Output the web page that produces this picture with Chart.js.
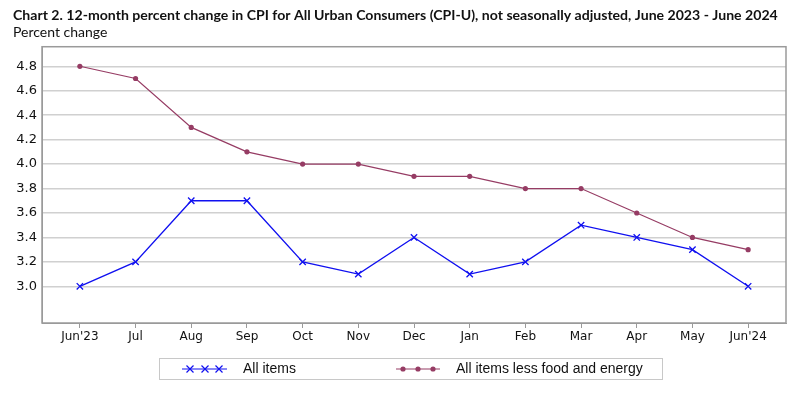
<!DOCTYPE html>
<html>
<head>
<meta charset="utf-8">
<script src="https://cdn.jsdelivr.net/npm/chart.js@4/dist/chart.umd.min.js"></script>
<style>
  html, body { margin: 0; padding: 0; background: #fff; }
  #wrap { width: 800px; height: 397px; position: relative; }
</style>
</head>
<body>
<div id="wrap"><canvas id="cpiChart"></canvas></div>
<script>
const months = ["Jun'23", "Jul", "Aug", "Sep", "Oct", "Nov", "Dec", "Jan", "Feb", "Mar", "Apr", "May", "Jun'24"];
const allItems = [3.0, 3.2, 3.7, 3.7, 3.2, 3.1, 3.4, 3.1, 3.2, 3.5, 3.4, 3.3, 3.0];
const coreItems = [4.8, 4.7, 4.3, 4.1, 4.0, 4.0, 3.9, 3.9, 3.8, 3.8, 3.6, 3.4, 3.3];
const yTicks = [3.0, 3.2, 3.4, 3.6, 3.8, 4.0, 4.2, 4.4, 4.6, 4.8];

const BLUE = '#1010f0';
const MAROON = '#963c64';
const tickFont = { family: 'DejaVu Sans', size: 12 };

// legend in a framed box under the plot
const boxLegend = {
  id: 'boxLegend',
  afterDraw(chart) {
    const c = chart.ctx;
    c.save();
    c.strokeStyle = '#c8c8c8';
    c.lineWidth = 1;
    c.strokeRect(159.5, 358.5, 503, 21);

    const y = 369;
    // all items: line with x marks
    c.strokeStyle = BLUE;
    c.lineWidth = 1.2;
    c.beginPath(); c.moveTo(182, y); c.lineTo(227, y); c.stroke();
    [190, 205, 219].forEach(x => {
      c.beginPath();
      c.moveTo(x - 3.5, y - 3.5); c.lineTo(x + 3.5, y + 3.5);
      c.moveTo(x - 3.5, y + 3.5); c.lineTo(x + 3.5, y - 3.5);
      c.stroke();
    });
    // core: line with dots
    c.strokeStyle = MAROON;
    c.fillStyle = MAROON;
    c.beginPath(); c.moveTo(396, y); c.lineTo(440, y); c.stroke();
    [403, 418, 433].forEach(x => {
      c.beginPath(); c.arc(x, y, 2.6, 0, Math.PI * 2); c.fill();
    });

    c.fillStyle = '#111';
    c.font = '14px "Liberation Sans"';
    c.textBaseline = 'middle';
    c.fillText('All items', 243, y);
    c.fillText('All items less food and energy', 456, y);
    c.restore();
  }
};

// full frame around plot area
const frame = {
  id: 'frame',
  afterDatasetsDraw(chart) {
    const a = chart.chartArea;
    const c = chart.ctx;
    c.save();
    c.strokeStyle = '#9a9a9a';
    c.lineWidth = 1.5;
    c.strokeRect(a.left, a.top, a.right - a.left, a.bottom - a.top);
    c.restore();
  }
};

new Chart(document.getElementById('cpiChart'), {
  type: 'line',
  data: {
    datasets: [
      {
        label: 'All items',
        data: allItems.map((v, i) => ({ x: i, y: v })),
        borderColor: BLUE,
        backgroundColor: BLUE,
        borderWidth: 1.3,
        pointStyle: 'crossRot',
        pointRadius: 4.5,
        pointBorderWidth: 1.3,
        tension: 0
      },
      {
        label: 'All items less food and energy',
        data: coreItems.map((v, i) => ({ x: i, y: v })),
        borderColor: MAROON,
        backgroundColor: MAROON,
        borderWidth: 1.2,
        pointStyle: 'circle',
        pointRadius: 2.6,
        pointBorderWidth: 0,
        tension: 0
      }
    ]
  },
  options: {
    responsive: true,
    maintainAspectRatio: false,
    animation: false,
    layout: { padding: { left: 13, right: 14, top: 0, bottom: 44 } },
    plugins: {
      legend: { display: false },
      tooltip: { enabled: false },
      title: {
        display: true,
        align: 'start',
        text: 'Chart 2. 12-month percent change in CPI for All Urban Consumers (CPI-U), not seasonally adjusted, June 2023 - June 2024',
        color: '#111',
        font: { family: 'Lato', size: 14.1, weight: 'bold' },
        padding: { top: 7, bottom: 0 }
      },
      subtitle: {
        display: true,
        align: 'start',
        text: 'Percent change',
        color: '#111',
        font: { family: 'Lato', size: 14 },
        padding: { top: 0, bottom: 6 }
      }
    },
    scales: {
      x: {
        type: 'linear',
        min: -0.68,
        max: 12.68,
        afterBuildTicks: s => { s.ticks = months.map((_, i) => ({ value: i })); },
        afterFit: s => { s.height = 30; },
        ticks: {
          callback: v => months[v],
          color: '#111',
          font: tickFont,
          padding: 2,
          maxRotation: 0,
          autoSkip: false
        },
        grid: { drawOnChartArea: false, drawTicks: true, tickLength: 5, color: '#9a9a9a' },
        border: { color: '#9a9a9a' }
      },
      y: {
        min: 2.7,
        max: 4.96,
        afterBuildTicks: s => { s.ticks = yTicks.map(v => ({ value: v })); },
        afterFit: s => { s.width = 29; },
        ticks: {
          callback: v => v.toFixed(1),
          color: '#111',
          font: { family: 'DejaVu Sans', size: 13 },
          padding: 5
        },
        grid: { color: '#d0d0d0', lineWidth: 1.5, drawTicks: false },
        border: { color: '#9a9a9a' }
      }
    }
  },
  plugins: [frame, boxLegend]
});
</script>
</body>
</html>
